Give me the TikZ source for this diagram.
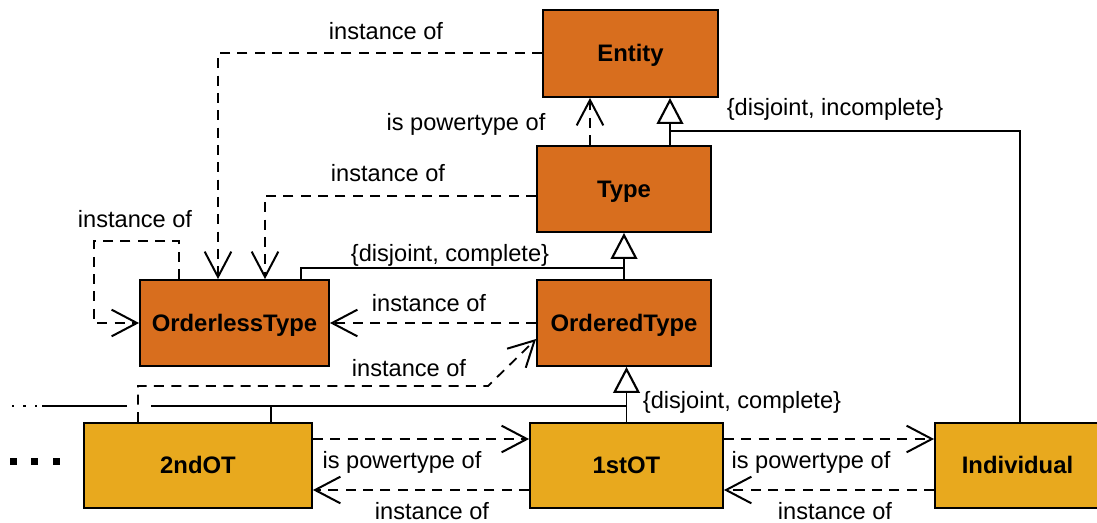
\documentclass[tikz,border=0pt]{standalone}
\usepackage{fontspec}
\setmainfont{Liberation Sans}
\usetikzlibrary{arrows.meta,calc}
\definecolor{typeorange}{RGB}{216,110,30}
\definecolor{otgold}{RGB}{232,169,30}
\begin{document}
\begin{tikzpicture}[x=0.75pt,y=-0.75pt,
  box/.style={draw=black,line width=1.4pt,inner sep=0,text height=12.7pt,text depth=0pt,font=\fontsize{17.9}{20}\selectfont\bfseries},
  lbl/.style={inner sep=0,anchor=base,font=\fontsize{17.7}{20}\selectfont},
  dep/.style={line width=1.35pt,dash pattern=on 7.5pt off 5.5pt,-{Straight Barb[length=19pt,width=20pt,line width=1.5pt]}},
  gen/.style={line width=1.35pt,-{Triangle[length=19.5pt,width=20pt,fill=white,line width=1.6pt]}},
  solidline/.style={line width=1.35pt}]
\useasboundingbox (0,0) rectangle (1097,522);

% boxes
\node[box,fill=typeorange,minimum width=131.25pt,minimum height=65.25pt] (entity) at (630.5,53.5) {Entity};
\node[box,fill=typeorange,minimum width=130.5pt,minimum height=64.5pt] (type) at (624,189) {Type};
\node[box,fill=typeorange,minimum width=141.75pt,minimum height=64.5pt] (olt) at (234.5,323) {OrderlessType};
\node[box,fill=typeorange,minimum width=130.5pt,minimum height=64.5pt] (odt) at (624,323) {OrderedType};
\node[box,fill=otgold,minimum width=171pt,minimum height=63.75pt] (ot2) at (198,465.5) {2ndOT};
\node[box,fill=otgold,minimum width=144.75pt,minimum height=63.75pt] (ot1) at (626.5,465.5) {1stOT};
\node[box,fill=otgold,minimum width=123.75pt,minimum height=63.75pt] (ind) at (1017.5,465.5) {Individual};

% junction coordinates
\coordinate (j1) at (670,131);
\coordinate (j2) at (624,268);
\coordinate (j3) at (627,406);
\coordinate (g1) at (151,406);
\coordinate (g2) at (127,406);
\coordinate (e1) at (42,406);
\coordinate (c1) at (488,386);

% Entity -> OrderlessType
\draw[dep] ($(entity.west)+(0,-0.5)$) -| ($(olt.north)+(-16.5,0)$);
\node[lbl] (l1) at (386,39) {instance of};

% Type -> Entity (powertype)
\draw[dep] ($(type.north)+(-34,0)$) -- ($(entity.south)+(-40.5,0)$);
\node[lbl] (l2) at (466,130) {is powertype of};

% Type -> Entity generalization
\draw[gen] ($(type.north)+(46,0)$) -- ($(entity.south)+(39.5,0)$);
\draw[solidline] ($(ind.north)+(2.5,0)$) |- (j1);
\node[lbl] (l3) at (835,115) {\{disjoint, incomplete\}};

% Type -> OrderlessType
\draw[dep] ($(type.west)+(0,7)$) -| ($(olt.north)+(30.5,0)$);
\node[lbl] (l4) at (388,181) {instance of};

% OrderlessType self
\draw[dep] ($(olt.north)+(-55.5,0)$) -- ++(0,-38) -| ($(olt.west)+(-45,0)$) -- (olt.west);
\node[lbl] (l5) at (135,227) {instance of};

% OrderedType -> Type generalization
\draw[gen] (odt.north) -- (type.south);
\draw[solidline] ($(olt.north)+(66.5,0)$) |- (j2);
\node[lbl] (l6) at (450,261) {\{disjoint, complete\}};

% OrderedType -> OrderlessType
\draw[dep] (odt.west) -- (olt.east);
\node[lbl] (l7) at (429,311) {instance of};

% 2ndOT -> OrderedType
\draw[dep] ($(ot2.north)+(-60,0)$) |- (c1) -- ($(odt.west)+(0,16)$);
\node[lbl] (l8) at (409,376) {instance of};

% 1stOT -> OrderedType generalization
\draw[gen] (ot1.north) -- (ot1.north |- odt.south);
\draw[solidline] (j3) -- (g1);
\draw[solidline] (g2) -- (e1);
\draw[solidline] ($(ot2.north)+(73,0)$) -- ++(0,-17);
\node[lbl] (l9) at (742,408) {\{disjoint, complete\}};

% dots
\foreach \x in {13,24.5,36} \fill (\x-1.3,404.7) rectangle (\x+1.3,407.3);
\foreach \x in {13.5,34.5,56.5} \fill (\x-3.5,457.5) rectangle (\x+3.5,464.5);

% 2ndOT <-> 1stOT
\draw[dep] ($(ot2.east)+(0,-26.5)$) -- ($(ot1.west)+(0,-26.5)$);
\node[lbl] (l10) at (402,468) {is powertype of};
\draw[dep] ($(ot1.west)+(0,24.5)$) -- ($(ot2.east)+(0,24.5)$);
\node[lbl] (l11) at (432,519) {instance of};

% 1stOT <-> Individual
\draw[dep] ($(ot1.east)+(0,-26.5)$) -- ($(ind.west)+(0,-26.5)$);
\node[lbl] (l12) at (811,468) {is powertype of};
\draw[dep] ($(ind.west)+(0,24.5)$) -- ($(ot1.east)+(0,24.5)$);
\node[lbl] (l13) at (835,519) {instance of};
\end{tikzpicture}
\end{document}
